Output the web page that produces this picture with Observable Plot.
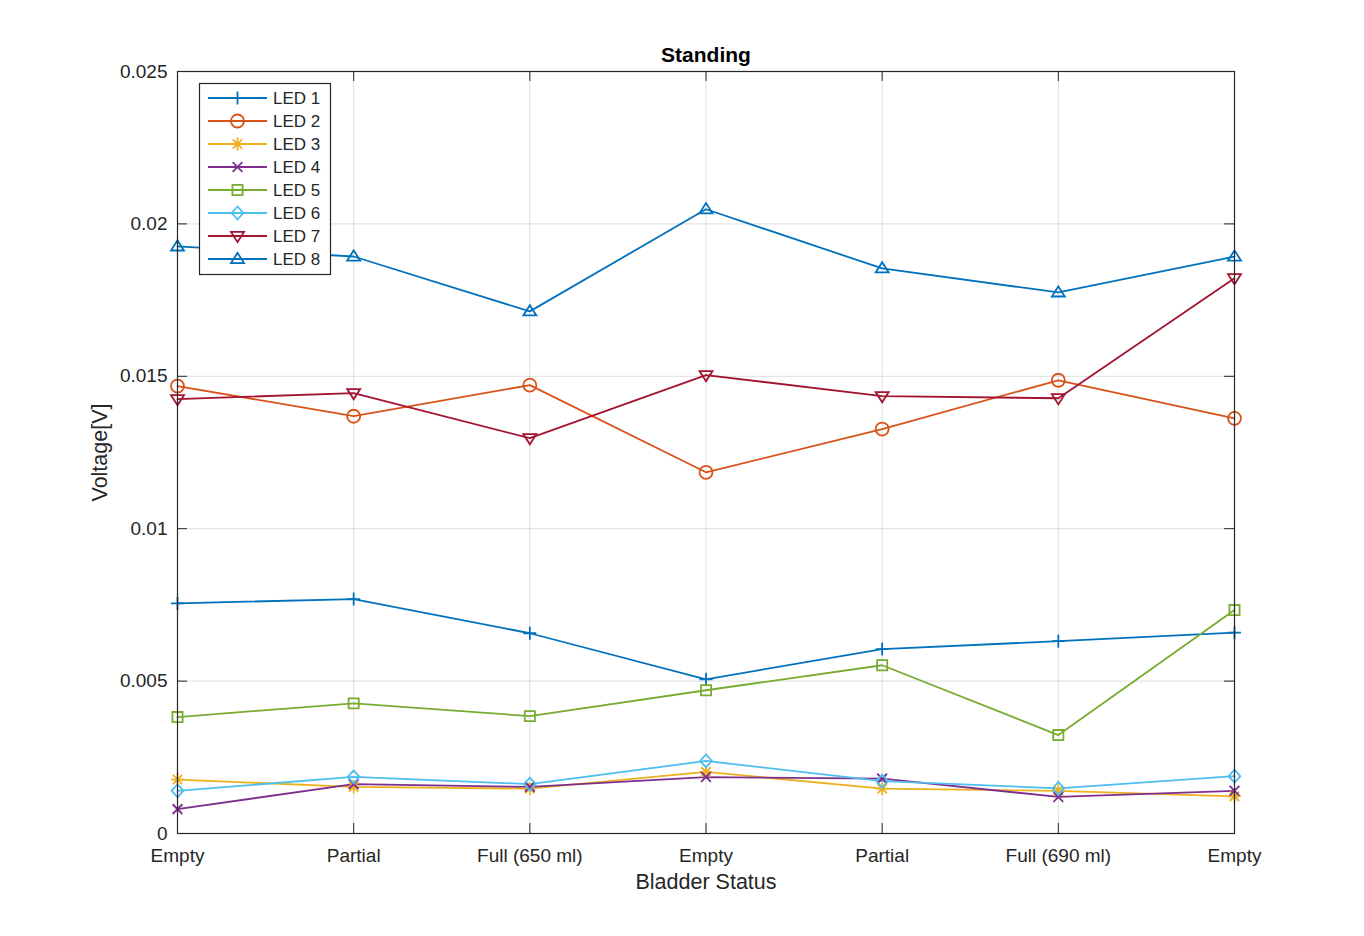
<!DOCTYPE html>
<html><head><meta charset="utf-8">
<script src="https://cdn.jsdelivr.net/npm/d3@7"></script>
<script src="https://cdn.jsdelivr.net/npm/@observablehq/plot@0.6"></script>
<style>body{margin:0;background:#fff;} #chart svg{display:block;}</style>
</head><body><div id="chart"></div>
<script>
const categories = ["Empty", "Partial", "Full (650 ml)", "Empty", "Partial", "Full (690 ml)", "Empty"];
const positions = [1, 2, 3, 4, 5, 6, 7];
const yTicks = [0, 0.005, 0.01, 0.015, 0.02, 0.025];
const seriesNames = ["LED 1", "LED 2", "LED 3", "LED 4", "LED 5", "LED 6", "LED 7", "LED 8"];
const seriesColors = ["#0072BD", "#D95319", "#EDB120", "#7E2F8E", "#77AC30", "#4DBEEE", "#A2142F", "#0072BD"];
const led1 = [0.00755, 0.00769, 0.00657, 0.00506, 0.00605, 0.00631, 0.00659];
const led2 = [0.01468, 0.01369, 0.01471, 0.01185, 0.01327, 0.01487, 0.01362];
const led3 = [0.00177, 0.00153, 0.00147, 0.00202, 0.00147, 0.00140, 0.00122];
const led4 = [0.00080, 0.00162, 0.00153, 0.00185, 0.00180, 0.00120, 0.00140];
const led5 = [0.00382, 0.00427, 0.00385, 0.00470, 0.00552, 0.00323, 0.00733];
const led6 = [0.00140, 0.00186, 0.00162, 0.00238, 0.00172, 0.00148, 0.00188];
const led7 = [0.01425, 0.01445, 0.01297, 0.01504, 0.01435, 0.01428, 0.01822];
const led8 = [0.01926, 0.01893, 0.01713, 0.02048, 0.01854, 0.01775, 0.01893];
const seriesValues = [led1, led2, led3, led4, led5, led6, led7, led8];

// MATLAB-like marker shapes
const rad = (size) => Math.sqrt(size / Math.PI);
const symPlus = {draw(c, s) { const r = rad(s); c.moveTo(-r, 0); c.lineTo(r, 0); c.moveTo(0, -r); c.lineTo(0, r); }};
const symCircle = {draw(c, s) { const r = rad(s); c.moveTo(r, 0); c.arc(0, 0, r, 0, 2 * Math.PI); }};
const symAsterisk = {draw(c, s) { const r = rad(s); const q = r * 0.72;
  c.moveTo(-r, 0); c.lineTo(r, 0); c.moveTo(0, -r); c.lineTo(0, r);
  c.moveTo(-q, -q); c.lineTo(q, q); c.moveTo(-q, q); c.lineTo(q, -q); }};
const symTimes = {draw(c, s) { const q = rad(s) * 0.75; c.moveTo(-q, -q); c.lineTo(q, q); c.moveTo(-q, q); c.lineTo(q, -q); }};
const symSquare = {draw(c, s) { const h = rad(s) * 0.78; c.moveTo(-h, -h); c.lineTo(h, -h); c.lineTo(h, h); c.lineTo(-h, h); c.closePath(); }};
const symDiamond = {draw(c, s) { const r = rad(s); c.moveTo(0, -r); c.lineTo(r * 0.9, 0); c.lineTo(0, r); c.lineTo(-r * 0.9, 0); c.closePath(); }};
const symTriDown = {draw(c, s) { const r = rad(s); c.moveTo(-r, -r * 0.62); c.lineTo(r, -r * 0.62); c.lineTo(0, r * 0.95); c.closePath(); }};
const symTriUp = {draw(c, s) { const r = rad(s); c.moveTo(-r, r * 0.62); c.lineTo(r, r * 0.62); c.lineTo(0, -r * 0.95); c.closePath(); }};
const seriesSymbols = [symPlus, symCircle, symAsterisk, symTimes, symSquare, symDiamond, symTriDown, symTriUp];

const rows = [];
seriesNames.forEach((name, i) => seriesValues[i].forEach((v, j) => rows.push({led: name, x: positions[j], v})));

const W = 1364, H = 936, mL = 177, mR = 130, mT = 71, mB = 103;
const innerW = W - mL - mR, innerH = H - mT - mB;
const ink = "#262626";
const tickLen = 10;
const lw = 1.8;

const chart = Plot.plot({
  width: W, height: H,
  marginLeft: mL, marginRight: mR, marginTop: mT, marginBottom: mB,
  style: {fontFamily: "'Liberation Sans', Arial, Helvetica, sans-serif", fontSize: "19px", color: ink, background: "#fff"},
  x: {domain: [1, 7]},
  y: {domain: [0, 0.025]},
  color: {domain: seriesNames, range: seriesColors},
  symbol: {domain: seriesNames, range: seriesSymbols},
  marks: [
    Plot.gridX(positions, {stroke: "#000", strokeOpacity: 0.13, strokeWidth: 1}),
    Plot.gridY(yTicks, {stroke: "#000", strokeOpacity: 0.13, strokeWidth: 1}),
    Plot.tickX(positions, {x: d => d, insetTop: innerH - tickLen, stroke: ink}),
    Plot.tickX(positions, {x: d => d, insetBottom: innerH - tickLen, stroke: ink}),
    Plot.tickY(yTicks, {y: d => d, insetRight: innerW - tickLen, stroke: ink}),
    Plot.tickY(yTicks, {y: d => d, insetLeft: innerW - tickLen, stroke: ink}),
    Plot.line(rows, {x: "x", y: "v", z: "led", stroke: "led", strokeWidth: lw}),
    Plot.dot(rows, {x: "x", y: "v", symbol: "led", stroke: "led", fill: "none", r: 6.5, strokeWidth: lw}),
    Plot.frame({stroke: ink, strokeWidth: 1.2}),
    Plot.axisX(positions, {tickSize: 0, tickPadding: 14.5, tickFormat: d => categories[d - 1], fontSize: 19, label: null, color: ink}),
    Plot.axisY(yTicks, {tickSize: 0, tickPadding: 10, tickFormat: d => d === 0 ? "0" : String(+d.toFixed(3)), fontSize: 19, label: null, color: ink}),
    Plot.text(["Bladder Status"], {frameAnchor: "bottom", dy: 49, lineAnchor: "middle", textAnchor: "middle", fontSize: 21.5, fill: ink}),
    Plot.text(["Voltage[V]"], {frameAnchor: "left", dx: -77, rotate: -90, lineAnchor: "middle", textAnchor: "middle", fontSize: 21.5, fill: ink}),
    Plot.text(["Standing"], {frameAnchor: "top", dy: -16, lineAnchor: "middle", textAnchor: "middle", fontSize: 21, fontWeight: "bold", fill: "#000"})
  ]
});
document.getElementById("chart").appendChild(chart);

// Legend box (MATLAB style, inside the axes)
const svg = d3.select(chart);
const lg = svg.append("g").attr("font-size", 17).attr("fill", ink).attr("text-anchor", "start");
lg.append("rect").attr("x", 199.5).attr("y", 83.5).attr("width", 131).attr("height", 191)
  .attr("fill", "#fff").attr("stroke", ink).attr("stroke-width", 1.2);
seriesNames.forEach((name, i) => {
  const cy = 98 + i * 23;
  lg.append("line").attr("x1", 208).attr("x2", 267).attr("y1", cy).attr("y2", cy)
    .attr("stroke", seriesColors[i]).attr("stroke-width", lw);
  lg.append("path").attr("d", d3.symbol(seriesSymbols[i], Math.PI * 6.5 * 6.5)())
    .attr("transform", `translate(237.5,${cy})`).attr("fill", "none")
    .attr("stroke", seriesColors[i]).attr("stroke-width", lw);
  lg.append("text").attr("x", 273).attr("y", cy).attr("dy", "0.35em").style("font-size", "17px").text(name);
});
</script>
</body></html>
